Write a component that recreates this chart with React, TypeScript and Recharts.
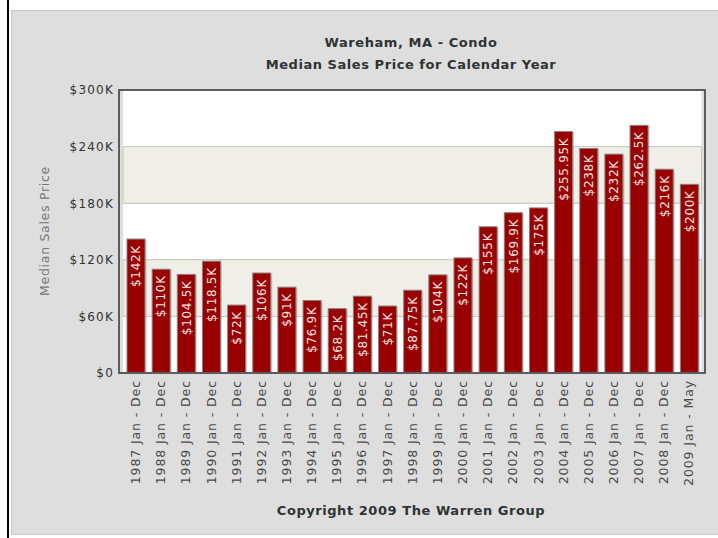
import React from "react";
import { BarChart, Bar, XAxis, YAxis, CartesianGrid, ReferenceArea, LabelList } from "recharts";

const categories = [
  "1987 Jan - Dec", "1988 Jan - Dec", "1989 Jan - Dec", "1990 Jan - Dec", "1991 Jan - Dec",
  "1992 Jan - Dec", "1993 Jan - Dec", "1994 Jan - Dec", "1995 Jan - Dec", "1996 Jan - Dec",
  "1997 Jan - Dec", "1998 Jan - Dec", "1999 Jan - Dec", "2000 Jan - Dec", "2001 Jan - Dec",
  "2002 Jan - Dec", "2003 Jan - Dec", "2004 Jan - Dec", "2005 Jan - Dec", "2006 Jan - Dec",
  "2007 Jan - Dec", "2008 Jan - Dec", "2009 Jan - May",
];

// Median sales price, thousands of dollars
const prices = [
  142, 110, 104.5, 118.5, 72, 106, 91, 76.9, 68.2, 81.45, 71, 87.75, 104, 122, 155,
  169.9, 175, 255.95, 238, 232, 262.5, 216, 200,
];

const yTicks = [0, 60, 120, 180, 240, 300];
const shadedBands = [
  [60, 120],
  [180, 240],
];

const title1 = "Wareham, MA - Condo";
const title2 = "Median Sales Price for Calendar Year";
const yTitle = "Median Sales Price";
const footer = "Copyright 2009 The Warren Group";

const fmt = (v: number) => (v === 0 ? "$0" : `$${v}K`);

const data = categories.map((c, i) => ({ name: c, value: prices[i], label: fmt(prices[i]) }));

const FONT = "'DejaVu Sans', Verdana, sans-serif";

const XTick = (props: any) => {
  const { x, y, payload } = props;
  const yy = y + 7;
  return (
    <text
      x={x}
      y={yy}
      transform={`rotate(-90, ${x}, ${yy})`}
      textAnchor="end"
      dy="0.36em"
      fontSize={12.5}
      letterSpacing={0.9}
      fill="#4a4a4a"
      fontFamily={FONT}
    >
      {payload.value}
    </text>
  );
};

const YTick = (props: any) => {
  const { x, y, payload } = props;
  return (
    <text
      x={x}
      y={y}
      textAnchor="end"
      dy="0.36em"
      fontSize={12}
      letterSpacing={1.2}
      fill="#333333"
      fontFamily={FONT}
    >
      {fmt(payload.value)}
    </text>
  );
};

const BarLabel = (props: any) => {
  const vb = props.viewBox || {};
  const x = props.x ?? vb.x;
  const y = props.y ?? vb.y;
  const w = props.width ?? vb.width;
  const cx = x + w / 2;
  const ty = y + 6;
  return (
    <text
      x={cx}
      y={ty}
      transform={`rotate(-90, ${cx}, ${ty})`}
      textAnchor="end"
      dy="0.36em"
      fontSize={12}
      letterSpacing={0.7}
      fill="#f6e6e6"
      fontFamily={FONT}
    >
      {props.value}
    </text>
  );
};

const BarShape = (props: any) => {
  const { x, y, width, height } = props;
  if (!height || height <= 0) return null;
  return (
    <g>
      <rect x={x + 1.5} y={y + 1} width={width} height={height} fill="rgba(0,0,0,0.18)" />
      <rect x={x} y={y} width={width} height={height} fill="#990000" stroke="#8c7f7f" strokeWidth={1} />
    </g>
  );
};

const titleStyle: React.CSSProperties = {
  position: "absolute",
  left: 161,
  width: 500,
  textAlign: "center",
  fontWeight: "bold",
  fontSize: 13,
  color: "#2e3333",
  letterSpacing: 0.55,
  lineHeight: "16px",
  whiteSpace: "nowrap",
};

export default function App() {
  return (
    <div style={{ position: "absolute", left: 0, top: 0, width: 718, height: 538, background: "#ffffff", overflow: "hidden", fontFamily: FONT }}>
      <div style={{ position: "absolute", left: 7, top: 0, width: 2, height: 538, background: "#000" }} />
      <div
        style={{
          position: "absolute",
          left: 11,
          top: 10,
          width: 720,
          height: 525,
          background: "#dedede",
          border: "1px solid #c9c9c9",
          boxSizing: "border-box",
        }}
      />
      <div style={{ ...titleStyle, top: 35 }}>{title1}</div>
      <div style={{ ...titleStyle, top: 57 }}>{title2}</div>
      <div
        style={{
          position: "absolute",
          left: 45 - 100,
          top: 231 - 8,
          width: 200,
          height: 16,
          lineHeight: "16px",
          textAlign: "center",
          transform: "rotate(-90deg)",
          fontSize: 12.5,
          letterSpacing: 0.7,
          color: "#737878",
          whiteSpace: "nowrap",
        }}
      >
        {yTitle}
      </div>
      <div style={{ ...titleStyle, top: 503 }}>{footer}</div>
      <div style={{ position: "absolute", left: 0, top: 0 }}>
        <BarChart
          width={718}
          height={538}
          data={data}
          margin={{ top: 90, right: 16.5, bottom: 0, left: 0 }}
          barSize={18}
        >
          <CartesianGrid vertical={false} stroke="#c9c9bd" strokeWidth={1} fill="#ffffff" />
          {shadedBands.map(([a, b]) => (
            <ReferenceArea key={a} y1={a} y2={b} fill="#efefe8" fillOpacity={1} stroke="#c9c9bd" strokeWidth={1} />
          ))}
          <XAxis
            dataKey="name"
            interval={0}
            height={165}
            tickSize={0}
            tickMargin={0}
            axisLine={false}
            tick={<XTick />}
          />
          <YAxis
            domain={[0, 300]}
            ticks={yTicks}
            width={123}
            tickSize={0}
            tickMargin={9}
            axisLine={false}
            tick={<YTick />}
            allowDataOverflow
          />
          <Bar dataKey="value" isAnimationActive={false} shape={<BarShape />}>
            <LabelList dataKey="label" content={<BarLabel />} />
          </Bar>
        </BarChart>
      </div>
      <div
        style={{
          position: "absolute",
          left: 118,
          top: 89,
          width: 588,
          height: 285,
          border: "2px solid #5c5c5c",
          boxSizing: "border-box",
          pointerEvents: "none",
        }}
      />
    </div>
  );
}
